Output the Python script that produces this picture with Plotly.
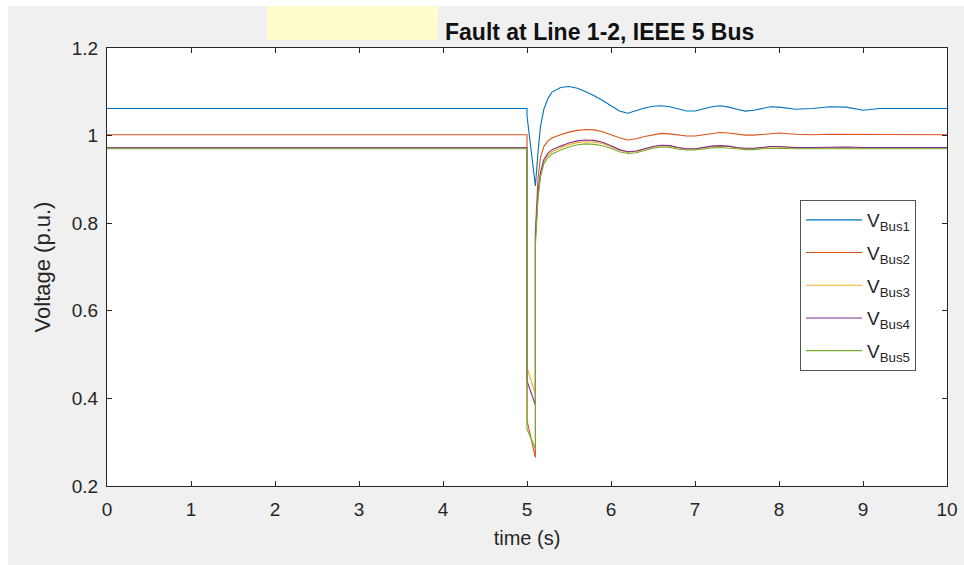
import plotly.graph_objects as go

# Simulation time (s); the fault is applied at 5.0 s and cleared at 5.1 s,
# so both instants appear twice (value just before / just after).
time_s = [0.0, 5.0, 5.0, 5.1, 5.1, 5.13, 5.16, 5.2, 5.25, 5.3, 5.4, 5.5, 5.6, 5.7,
          5.8, 5.9, 6.0, 6.1, 6.2, 6.3, 6.4, 6.5, 6.6, 6.7, 6.8, 6.9, 7.0, 7.1,
          7.2, 7.3, 7.4, 7.5, 7.6, 7.7, 7.8, 7.9, 8.0, 8.2, 8.4, 8.6, 8.8, 9.0,
          9.2, 9.5, 10.0]

# Bus voltage magnitudes (p.u.)
v_bus1 = [1.062, 1.062, 1.045, 0.885, 0.885, 0.960, 1.020, 1.060, 1.085, 1.100,
          1.110, 1.112, 1.108, 1.100, 1.091, 1.080, 1.068, 1.056, 1.051, 1.057,
          1.063, 1.067, 1.068, 1.066, 1.061, 1.056, 1.056, 1.061, 1.066, 1.068,
          1.065, 1.060, 1.056, 1.058, 1.062, 1.066, 1.065, 1.060, 1.062, 1.066,
          1.065, 1.058, 1.062, 1.062, 1.062]
v_bus2 = [1.002, 1.002, 0.350, 0.265, 0.780, 0.900, 0.950, 0.975, 0.988, 0.995,
          1.002, 1.008, 1.012, 1.014, 1.013, 1.009, 1.002, 0.995, 0.990, 0.993,
          0.998, 1.002, 1.005, 1.004, 1.001, 0.999, 0.999, 1.002, 1.005, 1.007,
          1.006, 1.003, 1.001, 1.001, 1.003, 1.005, 1.006, 1.003, 1.002, 1.003,
          1.003, 1.002, 1.002, 1.002, 1.002]
v_bus3 = [0.973, 0.973, 0.470, 0.410, 0.760, 0.860, 0.910, 0.940, 0.955, 0.963,
          0.972, 0.979, 0.984, 0.986, 0.985, 0.982, 0.975, 0.967, 0.962, 0.964,
          0.969, 0.974, 0.977, 0.976, 0.972, 0.969, 0.969, 0.972, 0.975, 0.976,
          0.975, 0.972, 0.970, 0.970, 0.972, 0.974, 0.974, 0.972, 0.972, 0.973,
          0.973, 0.972, 0.972, 0.972, 0.972]
v_bus4 = [0.972, 0.972, 0.440, 0.385, 0.770, 0.870, 0.915, 0.945, 0.960, 0.968,
          0.976, 0.983, 0.988, 0.990, 0.989, 0.985, 0.977, 0.968, 0.963, 0.965,
          0.970, 0.975, 0.978, 0.977, 0.973, 0.970, 0.970, 0.973, 0.976, 0.977,
          0.976, 0.973, 0.971, 0.971, 0.973, 0.975, 0.975, 0.973, 0.973, 0.974,
          0.974, 0.973, 0.973, 0.973, 0.973]
v_bus5 = [0.970, 0.970, 0.330, 0.285, 0.750, 0.855, 0.905, 0.935, 0.950, 0.958,
          0.967, 0.974, 0.979, 0.981, 0.980, 0.977, 0.971, 0.963, 0.959, 0.961,
          0.966, 0.971, 0.974, 0.973, 0.969, 0.967, 0.967, 0.970, 0.972, 0.973,
          0.972, 0.970, 0.968, 0.968, 0.970, 0.971, 0.971, 0.970, 0.970, 0.970,
          0.970, 0.970, 0.970, 0.970, 0.970]

series_names = ["V<sub>Bus1</sub>", "V<sub>Bus2</sub>", "V<sub>Bus3</sub>",
                "V<sub>Bus4</sub>", "V<sub>Bus5</sub>"]
series_values = [v_bus1, v_bus2, v_bus3, v_bus4, v_bus5]
line_colors = ["#0072BD", "#D95319", "#EDB120", "#7E2F8E", "#77AC30"]

x_ticks = list(range(0, 11))
y_ticks = [0.2, 0.4, 0.6, 0.8, 1.0, 1.2]
y_tick_text = ["0.2", "0.4", "0.6", "0.8", "1", "1.2"]

# Figure geometry (pixels)
W, H = 964, 565
PL, PR, PT, PB = 107, 947, 48, 486  # plot area edges


def px_x(x):
    return (x - PL) / (PR - PL)


def px_y(y):
    return (PB - y) / (PB - PT)


fig = go.Figure()
for i, (name, vals, col) in enumerate(zip(series_names, series_values, line_colors)):
    fig.add_trace(go.Scatter(x=time_s, y=vals, mode="lines", name=name,
                             legendgroup=f"g{i}",
                             line=dict(color=col, width=1.1)))

font_main = "Liberation Sans, Arial, Helvetica, sans-serif"
axis_color = "#262626"

fig.update_layout(
    width=W, height=H,
    margin=dict(l=PL, r=W - PR, t=PT, b=H - PB, autoexpand=False),
    paper_bgcolor="white",
    plot_bgcolor="white",
    font=dict(family=font_main, color=axis_color, size=19),
    showlegend=True,
    legend=dict(
        x=px_x(800), y=px_y(200), xanchor="left", yanchor="top",
        bgcolor="white", bordercolor="#555555", borderwidth=1,
        font=dict(size=19, color=axis_color),
        tracegroupgap=5, itemwidth=56,
    ),
    shapes=[
        # grey figure background with thin white edge at top/left
        dict(type="rect", xref="paper", yref="paper", layer="below",
             x0=px_x(8), x1=px_x(W + 2), y0=px_y(H + 2), y1=px_y(6),
             fillcolor="#f0f0f0", line=dict(width=0)),
        # white axes area
        dict(type="rect", xref="paper", yref="paper", layer="below",
             x0=0, x1=1, y0=0, y1=1, fillcolor="white", line=dict(width=0)),
        # pale yellow box beside the title
        dict(type="rect", xref="paper", yref="paper", layer="below",
             x0=px_x(267), x1=px_x(438), y0=px_y(40), y1=px_y(6),
             fillcolor="#fffdcc", line=dict(width=0)),
    ],
    annotations=[
        dict(text="<b>Fault at Line 1-2, IEEE 5 Bus</b>", xref="paper", yref="paper",
             x=px_x(599), y=px_y(32), xanchor="center", yanchor="middle",
             showarrow=False, font=dict(size=23, color="#111111", family=font_main)),
    ],
)

fig.update_xaxes(
    range=[0, 10], tickvals=x_ticks, ticktext=[str(v) for v in x_ticks],
    ticks="inside", ticklen=5, tickcolor=axis_color, automargin=False,
    showline=True, linecolor=axis_color, linewidth=1, mirror="ticks",
    showgrid=False, zeroline=False, ticklabelstandoff=6,
    tickfont=dict(size=19, color=axis_color),
    title=dict(text="time (s)", font=dict(size=20, color=axis_color), standoff=12),
)
fig.update_yaxes(
    range=[0.2, 1.2], tickvals=y_ticks, ticktext=y_tick_text,
    ticks="inside", ticklen=5, tickcolor=axis_color, automargin=False,
    showline=True, linecolor=axis_color, linewidth=1, mirror="ticks",
    showgrid=False, zeroline=False, ticklabelstandoff=4,
    tickfont=dict(size=19, color=axis_color),
    title=dict(text="Voltage (p.u.)", font=dict(size=22, color=axis_color), standoff=15),
)

fig.write_html("out.html")
